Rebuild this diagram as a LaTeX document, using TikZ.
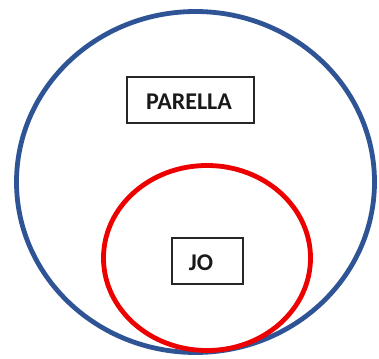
\documentclass[tikz,border=0pt]{standalone}
\usepackage{fontspec}
\setmainfont{Carlito}
\definecolor{outerblue}{RGB}{47,84,150}
\definecolor{innerred}{RGB}{236,0,0}
\tikzset{
  setring/.style={line width=4.8pt},
  labelbox/.style={draw=black!85, line width=1.4pt, fill=white, inner sep=0pt},
  labeltext/.style={font=\fontsize{24}{28}\selectfont\bfseries, text=black!90, inner sep=0pt}
}
\begin{document}
\begin{tikzpicture}[x=1pt,y=1pt]
\useasboundingbox (0,0) rectangle (379,358);
\draw[setring, draw=outerblue] (195.5,176) ellipse [x radius=179, y radius=170.5];
\draw[setring, draw=innerred] (207,100) ellipse [x radius=103.5, y radius=92.5];
\node[labelbox, minimum width=127pt, minimum height=46pt] (parella) at (190.5,258) {};
\node[labeltext] (parellatext) at (189,256) {PARELLA};
\node[labelbox, minimum width=71pt, minimum height=46pt] (jo) at (207.5,97) {};
\node[labeltext] (jotext) at (201,95.5) {JO};
\end{tikzpicture}
\end{document}
